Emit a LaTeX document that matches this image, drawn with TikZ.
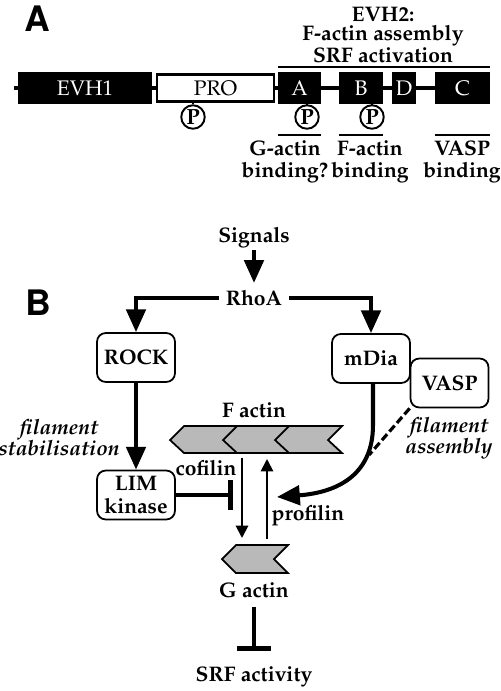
\documentclass[tikz,border=0pt]{standalone}
\usepackage[T1]{fontenc}
\usepackage{mathpazo}
\usepackage{helvet}
\usetikzlibrary{arrows.meta}

\begin{document}
\begin{tikzpicture}[x=0.02cm, y=-0.02cm,
    txt/.style={font=\fontsize{12}{12.5}\selectfont\bfseries, align=center, inner sep=1pt},
    slant/.style={font=\fontsize{12}{12}\selectfont\bfseries\itshape, align=center, inner sep=1pt},
    panel/.style={font=\fontsize{20}{20}\selectfont\sffamily\bfseries},
    dom/.style={draw, line width=1pt, fill=black, text=white, minimum height=0.62cm, inner sep=0pt, font=\fontsize{12}{13}\selectfont},
    probox/.style={draw, line width=1.2pt, fill=white, minimum height=0.54cm, inner sep=0pt, font=\fontsize{12}{13}\selectfont},
    phos/.style={circle, draw, line width=1.1pt, minimum size=0.47cm, inner sep=0pt, fill=white, font=\fontsize{12.5}{12.5}\selectfont\bfseries},
    box/.style={draw, line width=1pt, rounded corners=5pt, fill=white, minimum width=1.56cm, minimum height=0.98cm, align=center, inner sep=1pt, font=\fontsize{12}{13}\selectfont\bfseries},
    heavy/.style={line width=2.3pt, -{Triangle[length=13pt,width=11pt]}},
    light/.style={line width=1.1pt, -{Triangle[length=7pt,width=7pt]}},
    block/.style={line width=2.6pt, -{Bar[width=18pt]}},
    actin/.style={draw, line width=1pt, fill=gray!55, line join=miter}]
    \useasboundingbox (0,0) rectangle (501,691);

    % A: domain map
    \node[panel] (la) at (37,19) {A};
    \draw[line width=2.3pt] (14,88) -- (489,88);
    \node[dom, minimum width=2.64cm] (evh1) at (85,88) {EVH1};
    \node[probox, minimum width=2.34cm] (pro) at (215.5,88) {PRO};
    \node[dom, minimum width=0.82cm] (da) at (299.5,88) {A};
    \node[dom, minimum width=0.84cm] (db) at (361,88) {B};
    \node[dom, minimum width=0.44cm] (dd) at (404,88) {D};
    \node[dom, minimum width=1.06cm] (dc) at (462.5,88) {C};

    \node[phos] (p1) at (193,117) {P};
    \node[phos] (p2) at (307,117) {P};
    \node[phos] (p3) at (372,117) {P};
    \draw[line width=1.1pt] (p1.north) -- (p1.north |- pro.south);
    \draw[line width=1.1pt] (p2.north) -- (p2.north |- da.south);
    \draw[line width=1.1pt] (p3.north) -- (p3.north |- db.south);

    \draw[line width=1.5pt] (da.west |- 0,67) -- (dc.east |- 0,67);
    \node[txt, font=\fontsize{12}{11.2}\selectfont\bfseries] (evh2) at (383,35) {EVH2:\\F-actin assembly\\SRF activation};

    \draw[line width=1.5pt] (da.west |- 0,135) -- (da.east |- 0,135);
    \draw[line width=1.5pt] (db.west |- 0,135) -- (db.east |- 0,135);
    \draw[line width=1.5pt] (dc.west |- 0,135) -- (dc.east |- 0,135);
    \node[txt] (gbind) at (285,162) {G-actin\\binding?};
    \node[txt] (fbind) at (370,162) {F-actin\\binding};
    \node[txt] (vbind) at (462,162) {VASP\\binding};

    % B: signalling scheme
    \node[panel] (lb) at (38,303) {B};
    \node[txt] (sig) at (254,238) {Signals};
    \node[txt, inner sep=4pt] (rhoa) at (254,298) {RhoA};
    \draw[heavy] (sig) -- (rhoa);
    \node[box] (rock) at (136,357.5) {ROCK};
    \node[box] (mdia) at (371,358.5) {mDia};
    \node[box] (vasp) at (449.5,383) {VASP};
    \node[box] (lim) at (136,495) {LIM\\kinase};
    \draw[heavy] (rhoa.west) -| (rock.north);
    \draw[heavy] (rhoa.east) -| (mdia.north);
    \draw[heavy] (rock) -- (lim);
    \node[slant] (stab) at (59,438) {filament\\stabilisation};
    \node[slant] (assem) at (449,438) {filament\\assembly};

    \node[txt] (fact) at (254,410) {F actin};
    \draw[actin] (170,440) -- (184,426) -- (342,426) -- (328,440) -- (342,453) -- (184,453) -- cycle;
    \draw[line width=1pt] (237,426) -- (223,440) -- (237,453);
    \draw[line width=1pt] (289,426) -- (275,440) -- (289,453);
    \draw[actin] (222,559) -- (236,545) -- (288,545) -- (274,559) -- (288,573) -- (236,573) -- cycle;
    \node[txt] (gact) at (254,590) {G actin};

    \coordinate (cof1) at (242,458);
    \coordinate (cof2) at (242,538);
    \coordinate (prf1) at (267,539);
    \coordinate (prf2) at (267,459);
    \draw[light] (cof1) -- (cof2);
    \draw[light] (prf1) -- (prf2);
    \node[txt] (cof) at (206,468) {cofilin};
    \node[txt] (prof) at (308,516) {profilin};
    \draw[block, -{Bar[width=17pt]}] (lim.east) -- (lim.east -| 233,0);

    \coordinate (mfoot) at (373,425);
    \coordinate (mtip) at (277,497);
    \coordinate (join) at (369,455);
    \draw[heavy] (mdia.south -| mfoot) -- (mfoot) .. controls (373,480) and (330,493) .. (mtip);
    \draw[line width=1.8pt, dash pattern=on 4.5pt off 2pt] (vasp.south west) -- (join);

    \node[txt] (srf) at (254,677) {SRF activity};
    \draw[block, -{Bar[width=19pt]}, shorten <=4pt, shorten >=8pt] (gact) -- (srf);
\end{tikzpicture}
\end{document}
